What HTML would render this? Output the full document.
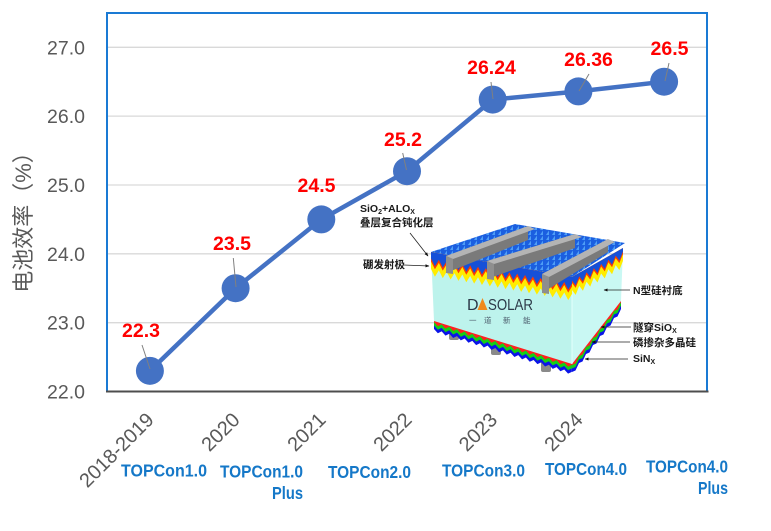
<!DOCTYPE html>
<html><head><meta charset="utf-8"><style>html,body{margin:0;padding:0;background:#fff}svg{display:block}</style></head>
<body>
<svg width="771" height="531" viewBox="0 0 771 531" xmlns="http://www.w3.org/2000/svg" font-family="'Liberation Sans','Noto Sans CJK SC',sans-serif">
<defs>
<pattern id="pyr" width="6" height="5" patternUnits="userSpaceOnUse">
<rect width="6" height="5" fill="#1b5fe0"/>
<polygon points="0,5 3,0.5 3,5" fill="#4e9ef6"/>
</pattern>
<marker id="ah" viewBox="0 0 10 10" refX="9" refY="5" markerWidth="5" markerHeight="5" orient="auto"><path d="M0,1 L10,5 L0,9 Z" fill="#111"/></marker>
</defs>
<rect width="771" height="531" fill="#fff"/>

<!-- gridlines -->
<g stroke="#d9d9d9" stroke-width="1.3">
<line x1="108" y1="47.3" x2="706" y2="47.3"/>
<line x1="108" y1="116.1" x2="706" y2="116.1"/>
<line x1="108" y1="185" x2="706" y2="185"/>
<line x1="108" y1="253.8" x2="706" y2="253.8"/>
<line x1="108" y1="322.7" x2="706" y2="322.7"/>
</g>

<!-- frame -->
<rect x="107" y="13" width="600" height="378.5" fill="none" stroke="#1a7ad4" stroke-width="2"/>
<line x1="106" y1="391.5" x2="708.5" y2="391.5" stroke="#4d4d4d" stroke-width="2"/>

<!-- y tick labels -->
<g font-size="19.5" fill="#595959" text-anchor="end">
<text x="85" y="54.3">27.0</text>
<text x="85" y="123.1">26.0</text>
<text x="85" y="192">25.0</text>
<text x="85" y="260.8">24.0</text>
<text x="85" y="329.7">23.0</text>
<text x="85" y="398.5">22.0</text>
</g>

<!-- y title -->
<text transform="translate(31,217) rotate(-90)" text-anchor="middle" font-size="22" fill="#595959">电池效率（%）</text>

<!-- x tick labels -->
<g font-size="20" fill="#595959" text-anchor="end">
<text transform="translate(155,421) rotate(-45)">2018-2019</text>
<text transform="translate(241,421) rotate(-45)">2020</text>
<text transform="translate(327,421) rotate(-45)">2021</text>
<text transform="translate(413,421) rotate(-45)">2022</text>
<text transform="translate(498.5,421) rotate(-45)">2023</text>
<text transform="translate(584,421) rotate(-45)">2024</text>
</g>

<!-- TOPCon labels -->
<g font-size="17.5" font-weight="bold" fill="#1578c8">
<text x="121" y="476.5" textLength="86" lengthAdjust="spacingAndGlyphs">TOPCon1.0</text>
<text x="220" y="477.5" textLength="83" lengthAdjust="spacingAndGlyphs">TOPCon1.0</text>
<text x="272" y="499" textLength="31" lengthAdjust="spacingAndGlyphs">Plus</text>
<text x="328" y="478" textLength="83" lengthAdjust="spacingAndGlyphs">TOPCon2.0</text>
<text x="442" y="476.5" textLength="83" lengthAdjust="spacingAndGlyphs">TOPCon3.0</text>
<text x="545" y="475" textLength="82" lengthAdjust="spacingAndGlyphs">TOPCon4.0</text>
<text x="646" y="472.5" textLength="82" lengthAdjust="spacingAndGlyphs">TOPCon4.0</text>
<text x="698" y="494" textLength="30" lengthAdjust="spacingAndGlyphs">Plus</text>
</g>

<!-- ===== Solar cell illustration ===== -->
<g>
<!-- feet -->
<rect x="449" y="326" width="10" height="14" rx="2" fill="#8a8a8a"/>
<rect x="491" y="339" width="10" height="16" rx="2" fill="#8a8a8a"/>
<rect x="541" y="354" width="10" height="18" rx="2" fill="#8a8a8a"/>

<!-- bottom stripes front -->
<path fill="#0a14e8" d="M434,329 l3.83,4.19l3.83,-1.81 l3.83,4.19l3.83,-1.81 l3.83,4.19l3.83,-1.81 l3.83,4.19l3.83,-1.81 l3.83,4.19l3.83,-1.81 l3.83,4.19l3.83,-1.81 l3.83,4.19l3.83,-1.81 l3.83,4.19l3.83,-1.81 l3.83,4.19l3.83,-1.81 l3.83,4.19l3.83,-1.81 l3.83,4.19l3.83,-1.81 l3.83,4.19l3.83,-1.81 l3.83,4.19l3.83,-1.81 l3.83,4.19l3.83,-1.81 l3.83,4.19l3.83,-1.81 l3.83,4.19l3.83,-1.81 l3.83,4.19l3.83,-1.81 l3.83,4.19l3.83,-1.81 L572,358 L434,315 Z"/>
<path fill="#14d014" d="M434,325.5 l3.83,4.19l3.83,-1.81 l3.83,4.19l3.83,-1.81 l3.83,4.19l3.83,-1.81 l3.83,4.19l3.83,-1.81 l3.83,4.19l3.83,-1.81 l3.83,4.19l3.83,-1.81 l3.83,4.19l3.83,-1.81 l3.83,4.19l3.83,-1.81 l3.83,4.19l3.83,-1.81 l3.83,4.19l3.83,-1.81 l3.83,4.19l3.83,-1.81 l3.83,4.19l3.83,-1.81 l3.83,4.19l3.83,-1.81 l3.83,4.19l3.83,-1.81 l3.83,4.19l3.83,-1.81 l3.83,4.19l3.83,-1.81 l3.83,4.19l3.83,-1.81 l3.83,4.19l3.83,-1.81 L572,358 L434,315 Z"/>
<path fill="#ff2020" d="M434,322 l3.83,4.19l3.83,-1.81 l3.83,4.19l3.83,-1.81 l3.83,4.19l3.83,-1.81 l3.83,4.19l3.83,-1.81 l3.83,4.19l3.83,-1.81 l3.83,4.19l3.83,-1.81 l3.83,4.19l3.83,-1.81 l3.83,4.19l3.83,-1.81 l3.83,4.19l3.83,-1.81 l3.83,4.19l3.83,-1.81 l3.83,4.19l3.83,-1.81 l3.83,4.19l3.83,-1.81 l3.83,4.19l3.83,-1.81 l3.83,4.19l3.83,-1.81 l3.83,4.19l3.83,-1.81 l3.83,4.19l3.83,-1.81 l3.83,4.19l3.83,-1.81 l3.83,4.19l3.83,-1.81 L572,358 L434,315 Z"/>

<!-- bottom stripes right -->
<path fill="#0a14e8" d="M572,372 l3.5,-1.5l3.5,-7.5 l3.5,-1.5l3.5,-7.5 l3.5,-1.5l3.5,-7.5 l3.5,-1.5l3.5,-7.5 l3.5,-1.5l3.5,-7.5 l3.5,-1.5l3.5,-7.5 l3.5,-1.5l3.5,-7.5 L621,296 L572,358 Z"/>
<path fill="#14d014" d="M572,368.5 l3.5,-1.5l3.5,-7.5 l3.5,-1.5l3.5,-7.5 l3.5,-1.5l3.5,-7.5 l3.5,-1.5l3.5,-7.5 l3.5,-1.5l3.5,-7.5 l3.5,-1.5l3.5,-7.5 l3.5,-1.5l3.5,-7.5 L621,296 L572,358 Z"/>
<path fill="#ff2020" d="M572,365 l3.5,-1.5l3.5,-7.5 l3.5,-1.5l3.5,-7.5 l3.5,-1.5l3.5,-7.5 l3.5,-1.5l3.5,-7.5 l3.5,-1.5l3.5,-7.5 l3.5,-1.5l3.5,-7.5 l3.5,-1.5l3.5,-7.5 L621,296 L572,358 Z"/>

<!-- faces -->
<polygon points="572,277 623,248 621,301 572,364" fill="#c9f8f3"/>
<polygon points="431,252 572,277 572,364 434,321" fill="#bdf3ec"/>
<line x1="572" y1="280" x2="572" y2="364" stroke="#e4fffb" stroke-width="1"/>

<!-- top surface -->
<polygon points="431,252 515,224 625,243 572,277" fill="url(#pyr)"/>

<!-- front top layers -->
<path fill="#ffec00" d="M431,269 l3.92,7.69l3.92,-6.31 l3.92,7.69l3.92,-6.31 l3.92,7.69l3.92,-6.31 l3.92,7.69l3.92,-6.31 l3.92,7.69l3.92,-6.31 l3.92,7.69l3.92,-6.31 l3.92,7.69l3.92,-6.31 l3.92,7.69l3.92,-6.31 l3.92,7.69l3.92,-6.31 l3.92,7.69l3.92,-6.31 l3.92,7.69l3.92,-6.31 l3.92,7.69l3.92,-6.31 l3.92,7.69l3.92,-6.31 l3.92,7.69l3.92,-6.31 l3.92,7.69l3.92,-6.31 l3.92,7.69l3.92,-6.31 l3.92,7.69l3.92,-6.31 l3.92,7.69l3.92,-6.31 L572,277 L431,252 Z"/>
<path fill="#ff3a00" d="M431,261.5 l3.92,7.69l3.92,-6.31 l3.92,7.69l3.92,-6.31 l3.92,7.69l3.92,-6.31 l3.92,7.69l3.92,-6.31 l3.92,7.69l3.92,-6.31 l3.92,7.69l3.92,-6.31 l3.92,7.69l3.92,-6.31 l3.92,7.69l3.92,-6.31 l3.92,7.69l3.92,-6.31 l3.92,7.69l3.92,-6.31 l3.92,7.69l3.92,-6.31 l3.92,7.69l3.92,-6.31 l3.92,7.69l3.92,-6.31 l3.92,7.69l3.92,-6.31 l3.92,7.69l3.92,-6.31 l3.92,7.69l3.92,-6.31 l3.92,7.69l3.92,-6.31 l3.92,7.69l3.92,-6.31 L572,277 L431,252 Z"/>
<path fill="#1650d8" d="M431,258.5 l3.92,7.69l3.92,-6.31 l3.92,7.69l3.92,-6.31 l3.92,7.69l3.92,-6.31 l3.92,7.69l3.92,-6.31 l3.92,7.69l3.92,-6.31 l3.92,7.69l3.92,-6.31 l3.92,7.69l3.92,-6.31 l3.92,7.69l3.92,-6.31 l3.92,7.69l3.92,-6.31 l3.92,7.69l3.92,-6.31 l3.92,7.69l3.92,-6.31 l3.92,7.69l3.92,-6.31 l3.92,7.69l3.92,-6.31 l3.92,7.69l3.92,-6.31 l3.92,7.69l3.92,-6.31 l3.92,7.69l3.92,-6.31 l3.92,7.69l3.92,-6.31 l3.92,7.69l3.92,-6.31 L572,277 L431,252 Z"/>

<!-- right top layers -->
<path fill="#ffec00" d="M572,290 l3.64,4.93l3.64,-9.07 l3.64,4.93l3.64,-9.07 l3.64,4.93l3.64,-9.07 l3.64,4.93l3.64,-9.07 l3.64,4.93l3.64,-9.07 l3.64,4.93l3.64,-9.07 l3.64,4.93l3.64,-9.07 L623,248 L572,277 Z"/>
<path fill="#ff3a00" d="M572,283 l3.64,4.93l3.64,-9.07 l3.64,4.93l3.64,-9.07 l3.64,4.93l3.64,-9.07 l3.64,4.93l3.64,-9.07 l3.64,4.93l3.64,-9.07 l3.64,4.93l3.64,-9.07 l3.64,4.93l3.64,-9.07 L623,248 L572,277 Z"/>
<path fill="#1650d8" d="M572,280.5 l3.64,4.93l3.64,-9.07 l3.64,4.93l3.64,-9.07 l3.64,4.93l3.64,-9.07 l3.64,4.93l3.64,-9.07 l3.64,4.93l3.64,-9.07 l3.64,4.93l3.64,-9.07 l3.64,4.93l3.64,-9.07 L623,248 L572,277 Z"/>

<!-- fingers -->
<polygon points="446,256 528,226 528,240 446,273" fill="#7a7a7a"/>
<polygon points="446,256 528,226 535,229 453,259" fill="#b4b4b4"/>
<polygon points="446,256 453,259 453,274 446,273" fill="#8e8e8e"/>
<polygon points="487,261 575,234 575,248 487,279" fill="#7a7a7a"/>
<polygon points="487,261 575,234 582,237 494,264" fill="#b4b4b4"/>
<polygon points="487,261 494,264 494,280 487,279" fill="#8e8e8e"/>
<polygon points="542,274 608,239 608,252 542,293" fill="#7a7a7a"/>
<polygon points="542,274 608,239 615,242 549,277" fill="#b4b4b4"/>
<polygon points="542,274 549,277 549,294 542,293" fill="#8e8e8e"/>

<!-- logo -->
<text x="467" y="310" font-size="16" fill="#2c3a48">D</text>
<polygon points="477.5,310 482.5,298 487.5,310" fill="#f08a1c"/>
<text x="488" y="310" font-size="16" fill="#2c3a48" textLength="45" lengthAdjust="spacingAndGlyphs">SOLAR</text>
<g font-size="7.5" fill="#4a5a6a">
<text x="469" y="323">一</text>
<text x="484" y="323">道</text>
<text x="503" y="323">新</text>
<text x="523" y="323">能</text>
</g>
</g>

<!-- annotations -->
<g stroke="#222" stroke-width="0.8" marker-end="url(#ah)">
<line x1="410" y1="233" x2="428" y2="256"/>
<line x1="404" y1="265" x2="429" y2="266"/>
<line x1="630" y1="290" x2="604" y2="290"/>
<line x1="631" y1="327" x2="601" y2="327"/>
<line x1="630" y1="342" x2="592" y2="342"/>
<line x1="628" y1="359" x2="585" y2="359"/>
</g>
<g font-size="10.5" font-weight="bold" fill="#1a1a1a">
<text x="360" y="212">SiO<tspan font-size="7" dy="2">2</tspan><tspan dy="-2">+ALO</tspan><tspan font-size="7" dy="2">X</tspan></text>
<text x="360" y="226">叠层复合钝化层</text>
<text x="363" y="268">硼发射极</text>
<text x="633" y="294">N型硅衬底</text>
<text x="633" y="331">隧穿SiO<tspan font-size="7" dy="2">X</tspan></text>
<text x="633" y="346">磷掺杂多晶硅</text>
<text x="633" y="362">SiN<tspan font-size="7" dy="2">X</tspan></text>
</g>

<!-- series -->
<polyline points="149.9,370.85 235.6,288.24 321.3,219.4 407,171.2 492.7,99.6 578.4,91.4 664.1,81.7" fill="none" stroke="#4472C4" stroke-width="4.5" stroke-linejoin="round"/>
<g fill="#4472C4">
<circle cx="149.9" cy="370.85" r="14"/>
<circle cx="235.6" cy="288.24" r="14"/>
<circle cx="321.3" cy="219.4" r="14"/>
<circle cx="407" cy="171.2" r="14"/>
<circle cx="492.7" cy="99.6" r="14"/>
<circle cx="578.4" cy="91.4" r="14"/>
<circle cx="664.1" cy="81.7" r="14"/>
</g>

<!-- leader lines -->
<g stroke="#808080" stroke-width="1">
<line x1="142" y1="345" x2="150" y2="369"/>
<line x1="233.3" y1="258" x2="236" y2="287"/>
<line x1="402.7" y1="153" x2="406.5" y2="170"/>
<line x1="491" y1="82" x2="493" y2="99"/>
<line x1="589" y1="74" x2="579" y2="91"/>
<line x1="669" y1="63" x2="665" y2="81"/>
</g>

<!-- data labels -->
<g font-size="19.5" font-weight="bold" fill="#ff0000" text-anchor="middle">
<text x="141" y="337">22.3</text>
<text x="232" y="250">23.5</text>
<text x="316.5" y="192">24.5</text>
<text x="403" y="146">25.2</text>
<text x="491.5" y="74">26.24</text>
<text x="588.5" y="66">26.36</text>
<text x="669.5" y="55">26.5</text>
</g>
</svg>
</body></html>
